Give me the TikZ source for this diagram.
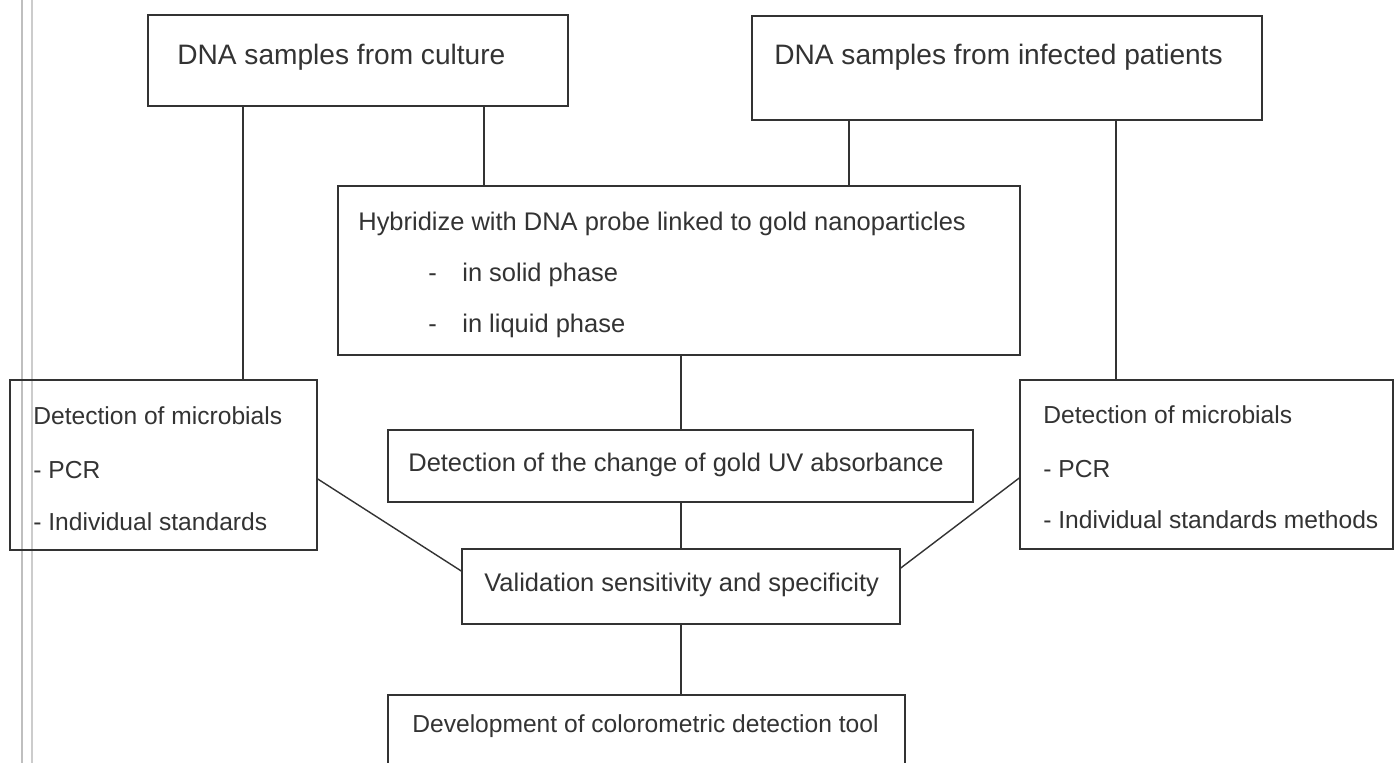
\documentclass[tikz,border=0pt]{standalone}
\usepackage{fontspec}
\setmainfont{Liberation Sans}
\usepackage{tikz}
\usetikzlibrary{positioning}

\tikzset{
  box/.style={draw=black!80, line width=0.9pt, rectangle, inner sep=0pt},
  bigtxt/.style={text=black!80, font=\fontsize{16}{19}\selectfont, inner sep=0pt, anchor=west},
  txt/.style={text=black!80, font=\fontsize{14}{17}\selectfont, inner sep=0pt, anchor=west,
    text height=1.6ex, text depth=0.45ex},
  widetxt/.style={txt, font=\fontsize{14.5}{17}\selectfont},
  wire/.style={draw=black!80, line width=0.8pt}
}

\begin{document}
\begin{tikzpicture}[x=0.02cm, y=-0.02cm]
			% frame of the page
			\clip (0,0) rectangle (1395,763);
			\fill[white] (0,0) rectangle (1395,763);
			\draw[black!25, line width=0.8pt] (22,0) -- (22,763);
			\draw[black!20, line width=0.8pt] (32,0) -- (32,763);
			% Boxes:
			\node[box, minimum width=8.4cm, minimum height=1.82cm](culture) at (358, 60.5){};
			\node[bigtxt](cultureT) at (177, 57){DNA samples from culture};
			\node[box, minimum width=10.2cm, minimum height=2.08cm](patients) at (1007, 68){};
			\node[bigtxt](patientsT) at (774, 57){DNA samples from infected patients};
			\node[box, minimum width=13.64cm, minimum height=3.38cm](hyb) at (679, 270.5){};
			\node[widetxt](hybT) at (358, 225){Hybridize with DNA probe linked to gold nanoparticles};
			\node[widetxt](dashA) at (428, 276){-};
			\node[widetxt](solidT) at (462, 276){in solid phase};
			\node[widetxt](dashB) at (428, 327){-};
			\node[widetxt](liquidT) at (462, 327){in liquid phase};
			\node[box, minimum width=6.14cm, minimum height=3.4cm](leftdet) at (163.5, 465){};
			\node[txt](leftA) at (33, 419){Detection of microbials};
			\node[txt](leftB) at (33, 473){- PCR};
			\node[txt](leftC) at (33, 525){- Individual standards};
			\node[box, minimum width=7.46cm, minimum height=3.38cm](rightdet) at (1206.5, 464.5){};
			\node[txt](rightA) at (1043, 418){Detection of microbials};
			\node[txt](rightB) at (1043, 472){- PCR};
			\node[txt](rightC) at (1043, 523){- Individual standards methods};
			\node[box, minimum width=11.7cm, minimum height=1.44cm](uv) at (680.5, 466){};
			\node[widetxt](uvT) at (408, 466){Detection of the change of gold UV absorbance};
			\node[box, minimum width=8.76cm, minimum height=1.5cm](valid) at (681, 586.5){};
			\node[widetxt](validT) at (484, 586){Validation sensitivity and specificity};
			\node[box, minimum width=10.34cm, minimum height=1.7cm](dev) at (646.5, 737.5){};
			\node[txt](devT) at (412, 727){Development of colorometric detection tool};
			% Wires:
			\draw[wire] (culture.south -| 243,0) -- (leftdet.north -| 243,0);
			\draw[wire] (culture.south -| 484,0) -- (hyb.north -| 484,0);
			\draw[wire] (patients.south -| 849,0) -- (hyb.north -| 849,0);
			\draw[wire] (patients.south -| 1116,0) -- (rightdet.north -| 1116,0);
			\draw[wire] (hyb.south -| 681,0) -- (uv.north -| 681,0);
			\draw[wire] (uv.south -| 681,0) -- (valid.north -| 681,0);
			\draw[wire] (valid.south -| 681,0) -- (dev.north -| 681,0);
			\draw[wire] (leftdet.east |- 0,479) -- (valid.west |- 0,571);
			\draw[wire] (rightdet.west |- 0,478) -- (valid.east |- 0,568);
		\end{tikzpicture}
\end{document}
